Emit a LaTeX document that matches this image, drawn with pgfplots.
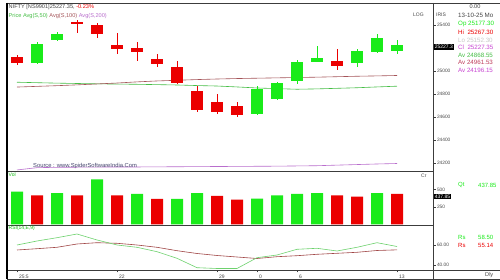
\documentclass[border=0pt]{standalone}
\usepackage{pgfplots}
\pgfplotsset{compat=1.18}
\usepackage{pgfplotstable}
\usepackage{fontspec}
\setmainfont{Liberation Sans}

\definecolor{cg}{RGB}{25,235,25}
\definecolor{cr}{RGB}{235,0,0}
\definecolor{ma50}{RGB}{70,190,70}
\definecolor{ma100}{RGB}{165,85,90}
\definecolor{ma200}{RGB}{185,110,205}
\definecolor{rsig}{RGB}{110,210,110}
\definecolor{rsib}{RGB}{160,70,70}
\definecolor{frame}{RGB}{60,60,60}
\definecolor{txt}{RGB}{70,70,70}
\definecolor{src}{RGB}{70,70,110}
\definecolor{lo}{RGB}{200,200,200}
\definecolor{clc}{RGB}{200,70,210}
\definecolor{avb}{RGB}{190,60,90}

\newcommand\fs[1]{\fontsize{#1}{#1}\selectfont}

% candles: index open high low close
\pgfplotstableread{
i o h l c
1 25120 25140 25053 25068
4 25430 25440 25329 25407
5 25401 25416 25285 25320
6 25227 25329 25149 25192
7 25201 25253 25088 25163
8 25105 25146 25038 25059
9 25038 25090 24890 24894
10 24827 24873 24647 24661
11 24734 24801 24624 24641
12 24696 24734 24603 24618
17 25085 25190 25010 25047
}\redcandles

\pgfplotstableread{
i o h l c
2 25073 25256 25065 25233
3 25271 25337 25265 25320
13 24627 24870 24618 24844
14 24757 24908 24749 24899
15 24914 25097 24888 25082
16 25082 25218 25078 25111
18 25068 25190 25033 25177
19 25163 25320 25160 25285
20 25177.30 25267.30 25152.30 25227.35
}\greencandles

% moving averages
\pgfplotstableread{
i m50 m100 m200
1 24903 24861 24140
2 24899 24867 24160
3 24895 24873 24163
4 24892 24880 24164
5 24889 24888 24165
6 24887 24896 24166
7 24885 24906 24166
8 24882 24914 24167
9 24879 24920 24168
10 24874 24926 24169
11 24870 24931 24170
12 24862 24935 24171
13 24853 24938 24172
14 24847 24941 24173
15 24842 24944 24175
16 24845 24947 24177
17 24850 24951 24182
18 24855 24955 24187
19 24862 24958 24192
20 24868.55 24961.53 24196.15
}\mas

% volume
\pgfplotstableread{
i v
1 472
3 452
5 650
7 438
9 366
10 452
13 371
14 419
15 438
16 452
19 452
}\volg
\pgfplotstableread{
i v
2 419
4 419
6 419
8 366
11 409
12 357
17 419
18 400
20 437.85
}\volr

% RSI
\pgfplotstableread{
i rsi sig
1 60 55
2 64 56.3
3 67.3 57.7
4 71 61
5 65 62.3
6 60 61.7
7 57.7 60
8 53.3 57.7
9 46.7 54.3
10 37.3 51.5
11 36.5 49.5
12 36.5 48
13 47.3 46.5
14 50 48.3
15 55.7 49.3
16 56.7 50.7
17 54 51.7
18 57.7 52.7
19 62.3 54.5
20 58.5 55.14
}\rsi

\pgfplotsset{
  panel/.style={
    scale only axis, width=426pt,
    xmin=0.5, xmax=21.8,
    axis line style={frame, line width=0.5pt},
    xtick=\empty,
    ytick pos=right, yticklabel pos=right,
    tick align=outside, major tick length=2.5pt,
    tick style={frame, line width=0.4pt},
    yticklabel style={font=\fs{4.8}, text=txt, xshift=-2pt},
    scaled y ticks=false, scaled x ticks=false,
    /pgf/number format/assume math mode=true,
    /pgf/number format/set thousands separator={},
  },
  body/.style={draw=none, no markers, error bars/.cd, y dir=both, y explicit, error mark=none,
    error bar style={line width=12pt, draw=#1}},
  wick/.style={draw=none, no markers, error bars/.cd, y dir=both, y explicit, error mark=none,
    error bar style={line width=0.8pt, draw=#1}},
}

\begin{document}
\begin{tikzpicture}[x=1pt, y=1pt]
\useasboundingbox (0,0) rectangle (500,280);
\clip (0,0) rectangle (500,280);
\fill[white] (0,0) rectangle (500,280);

% price panel
\begin{axis}[panel, at={(7pt,109pt)}, anchor=south west, height=168pt,
  ymin=24131, ymax=25592, ytick={24200,24400,24600,24800,25000,25400}]
\addplot[ma50, line width=0.6pt] table[x=i, y=m50] {\mas};
\addplot[ma100, line width=0.6pt] table[x=i, y=m100] {\mas};
\addplot[ma200, line width=0.6pt] table[x=i, y=m200] {\mas};
\addplot[wick=cr] table[x=i, y expr={(\thisrow{h}+\thisrow{l})/2}, y error expr={(\thisrow{h}-\thisrow{l})/2}] {\redcandles};
\addplot[body=cr] table[x=i, y expr={(\thisrow{o}+\thisrow{c})/2}, y error expr={abs(\thisrow{o}-\thisrow{c})/2}] {\redcandles};
\addplot[wick=cg] table[x=i, y expr={(\thisrow{h}+\thisrow{l})/2}, y error expr={(\thisrow{h}-\thisrow{l})/2}] {\greencandles};
\addplot[body=cg] table[x=i, y expr={(\thisrow{o}+\thisrow{c})/2}, y error expr={abs(\thisrow{o}-\thisrow{c})/2}] {\greencandles};
\end{axis}

% volume panel
\begin{axis}[panel, at={(7pt,55pt)}, anchor=south west, height=54pt,
  ymin=-10, ymax=770, ytick={250,500}]
\addplot[ybar, bar width=12pt, bar shift=0pt, fill=cg, draw=none] table[x=i, y=v] {\volg};
\addplot[ybar, bar width=12pt, bar shift=0pt, fill=cr, draw=none] table[x=i, y=v] {\volr};
\end{axis}

% RSI panel
\begin{axis}[panel, at={(7pt,10pt)}, anchor=south west, height=45pt,
  ymin=35, ymax=80, ytick={40,60}, yticklabels={40.00,60.00},
  xtick={1,6,11,13,15,20}, xticklabels={25:5,22,29,0,6,13},
  xtick pos=bottom, xticklabel style={font=\fs{5}, text=txt, anchor=north west, xshift=-1.5pt, yshift=1pt}]
\addplot[rsib, line width=0.6pt] table[x=i, y=sig] {\rsi};
\addplot[rsig, line width=0.6pt] table[x=i, y=rsi] {\rsi};
\end{axis}

% frame lines
\draw[frame, line width=0.5pt] (7,277) -- (500,277);
\draw[frame, line width=0.5pt] (7,10) -- (500,10);
\draw[frame, line width=0.5pt] (7,1) -- (500,1);
\draw[frame, line width=0.5pt] (433,277) -- (433,1);
\draw[black, line width=1.8pt] (7,277.25) -- (7,0.75);

% header
\node[anchor=west, inner sep=0] at (8.5,273) {\fs{5.6}\textcolor{txt}{NIFTY [NS9901]25227.35,} \textcolor{cr}{-0.23\%}};
\node[anchor=west, inner sep=0] at (8.5,264) {\fs{5.6}\textcolor{ma50}{Price Avg(S,50)} \textcolor{ma100}{Avg(S,100)} \textcolor{ma200}{Avg(S,200)}};
\node[anchor=west, inner sep=0, text=txt] at (413,265) {\fs{5}LOG};
\node[anchor=west, inner sep=0, text=txt] at (436,265) {\fs{5}IRIS};
\node[anchor=west, inner sep=0, text=src] at (33,114) {\fs{5.8}Source : www.SpiderSoftwareIndia.Com};
\node[anchor=west, inner sep=0, text=cg!80!black] at (8.5,105) {\fs{5}Vol};
\node[anchor=west, inner sep=0, text=txt] at (421,104) {\fs{5}Cr};
\node[anchor=west, inner sep=0, text=cg!80!black] at (8.5,52) {\fs{5}RSI(14,E,9)};

% right data panel
\node[inner sep=0, text=txt] at (475,273) {\fs{5.6}0.00};
\node[anchor=west, inner sep=0, text=txt] at (458,264.3) {\fs{6.2}13-10-25 Mo};
\node[anchor=west, inner sep=0, text=cg] at (458,256) {\fs{6.2}Op 25177.30};
\node[anchor=west, inner sep=0, text=cr] at (458,247.7) {\fs{6.2}Hi~~25267.30};
\node[anchor=west, inner sep=0, text=lo] at (458,240) {\fs{6.2}Lo 25152.30};
\node[anchor=west, inner sep=0, text=clc] at (458,232.3) {\fs{6.2}Cl~~25227.35};
\node[anchor=west, inner sep=0, text=ma50] at (458,225) {\fs{6.2}Av 24868.55};
\node[anchor=west, inner sep=0, text=avb] at (458,217.3) {\fs{6.2}Av 24961.53};
\node[anchor=west, inner sep=0, text=clc] at (458,210) {\fs{6.2}Av 24196.15};
\node[anchor=west, inner sep=0, text=cg] at (458,95) {\fs{6}Qt};
\node[anchor=west, inner sep=0, text=cg] at (478,95) {\fs{6}437.85};
\node[anchor=west, inner sep=0, text=cg] at (458,43) {\fs{6}Rs};
\node[anchor=west, inner sep=0, text=cg] at (478,43) {\fs{6}58.50};
\node[anchor=west, inner sep=0, text=cr] at (458,35) {\fs{6}Rs};
\node[anchor=west, inner sep=0, text=cr] at (478,35) {\fs{6}55.14};
\node[anchor=west, inner sep=0, text=txt] at (485,5) {\fs{5.6}Dly};

% value boxes
\node[anchor=west, fill=black, text=white, inner xsep=0.8pt, inner ysep=1pt] at (433.8,233) {\fs{5}25227.3};
\node[anchor=west, fill=black, text=white, inner xsep=0.8pt, inner ysep=1pt] at (433.8,83.5) {\fs{5}437.85};
\end{tikzpicture}
\end{document}
